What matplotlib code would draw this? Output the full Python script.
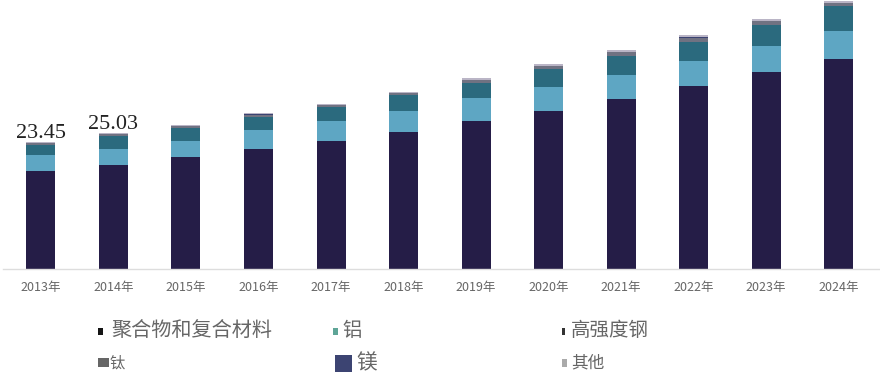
import matplotlib
matplotlib.use("Agg")
import matplotlib.pyplot as plt
from matplotlib.patches import Rectangle

plt.rcParams['font.family'] = ['Noto Sans CJK SC', 'DejaVu Sans']

years = ["2013年", "2014年", "2015年", "2016年", "2017年", "2018年",
         "2019年", "2020年", "2021年", "2022年", "2023年", "2024年"]
polymer = [18.08, 19.19, 20.72, 22.08, 23.67, 25.33, 27.36, 29.21, 31.37, 33.82, 36.29, 38.75]
aluminum = [2.95, 2.90, 2.90, 3.56, 3.63, 3.87, 4.13, 4.43, 4.43, 4.61, 4.91, 5.17]
steel = [1.85, 2.45, 2.34, 2.45, 2.64, 2.90, 2.77, 3.21, 3.51, 3.51, 3.82, 4.61]
titanium = [0.35, 0.30, 0.38, 0.40, 0.30, 0.38, 0.55, 0.55, 0.65, 0.75, 0.65, 0.55]
magnesium = [0.04, 0.04, 0.05, 0.05, 0.04, 0.05, 0.07, 0.07, 0.08, 0.09, 0.08, 0.07]
other = [0.18, 0.15, 0.18, 0.18, 0.16, 0.18, 0.30, 0.30, 0.37, 0.40, 0.38, 0.30]
labels = ["聚合物和复合材料", "铝", "高强度钢", "钛", "镁", "其他"]
annot_values = ["23.45", "25.03"]

series = [polymer, aluminum, steel, titanium, magnesium, other]
colors = ['#251d47', '#5ea6c3', '#2b6a7e', '#707282', '#3b4372', '#bab5c6']

fig = plt.figure(figsize=(8.8, 3.75), dpi=100)
ax = fig.add_axes([3/880, (375-269)/375, 877/880, 269/375])

x = list(range(len(years)))
bottom = [0.0] * len(years)
for vals, col, lab in zip(series, colors, labels):
    ax.bar(x, vals, width=0.4, bottom=bottom, color=col, label=lab, linewidth=0)
    bottom = [b + v for b, v in zip(bottom, vals)]

for i, txt in enumerate(annot_values):
    ax.annotate(txt, (x[i], bottom[i]), xytext=(0, 3), textcoords='offset points',
                ha='center', va='baseline', fontsize=16, family='Liberation Serif',
                color='#222222')

ax.set_xlim(-0.524, 11.572)
ax.set_ylim(0, 49.63)
ax.set_xticks(x)
ax.set_xticklabels(years, fontsize=9, color='#666666')
ax.tick_params(axis='x', length=0, pad=9)
ax.set_yticks([])
for s in ['top', 'right', 'left']:
    ax.spines[s].set_visible(False)
ax.spines['bottom'].set_color('#dddddd')
ax.spines['bottom'].set_linewidth(1)

# legend (manual layout)
W, H = 880, 375
def fx(px):
    return px / W
def fy(py):
    return 1 - py / H

legend_items = [
    # label, marker box (x0, y0, x1, y1) in px, marker colour, text x, text y, fontsize
    (labels[0], (98, 328, 103, 335), '#151515', 111, 331, 14.5),
    (labels[1], (333, 328, 338, 335), '#5ea597', 342, 331, 14),
    (labels[2], (562, 328, 565, 335), '#333333', 571, 331, 14),
    (labels[3], (98, 358, 109, 367), '#666666', 110, 363, 11),
    (labels[4], (335, 355, 352, 372), '#3c4472', 356, 363, 15),
    (labels[5], (562, 359, 567, 367), '#aaaaaa', 571, 363, 12),
]
for lab, (x0, y0, x1, y1), mc, tx, ty, fs in legend_items:
    fig.add_artist(Rectangle((fx(x0), fy(y1)), fx(x1) - fx(x0), fy(y0) - fy(y1),
                             transform=fig.transFigure, facecolor=mc, edgecolor='none'))
    fig.text(fx(tx), fy(ty), lab, ha='left', va='center', fontsize=fs, color='#666666')

fig.savefig("out.png", dpi=100, facecolor='white')
